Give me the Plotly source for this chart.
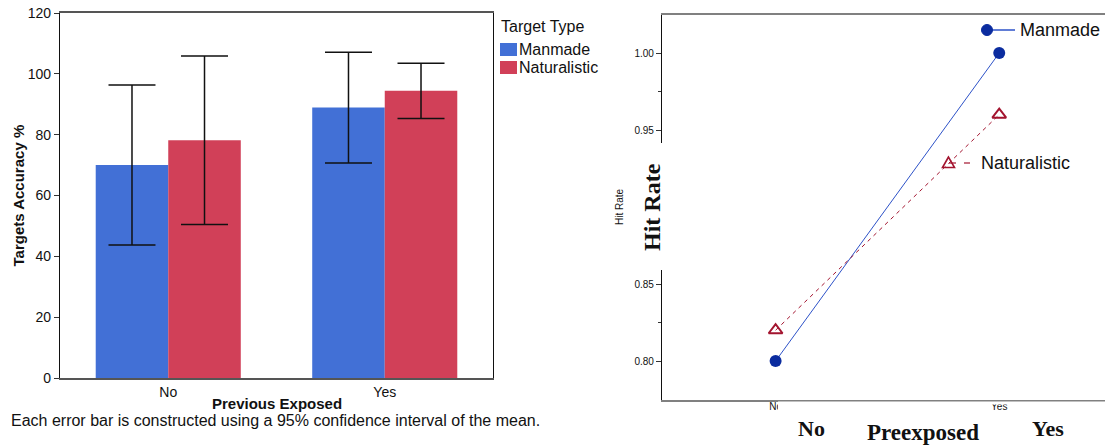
import plotly.graph_objects as go

W, H = 1105, 445

# ---------------- data ----------------
exposed = ["No", "Yes"]
manmade_acc = [70.0, 88.9]
manmade_ci = [26.3, 18.2]
natural_acc = [78.2, 94.4]
natural_ci = [27.7, 9.1]

hr_cats = ["No", "Yes"]
manmade_hr = [0.80, 1.00]
natural_hr = [0.82, 0.96]

y_ticks_left = [0, 20, 40, 60, 80, 100, 120]
y_ticks_right = [0.80, 0.85, 0.90, 0.95, 1.00]
y_minor_right = [0.825, 0.875, 0.925, 0.975]

BLUE = "#4270d6"
RED = "#d14058"
DBLUE = "#0b2c9f"
LBLUE = "#2d52c8"
DRED = "#a3142f"

SANS = "Liberation Sans, Arial, sans-serif"
SERIF = "Liberation Serif, Times New Roman, serif"


def px(x):
    return x / W


def py(y):
    return 1 - y / H


fig = go.Figure()

# ---------------- left: grouped bars ----------------
fig.add_trace(go.Bar(
    x=exposed, y=manmade_acc, name="Manmade", marker=dict(color=BLUE, line=dict(width=0)),
    error_y=dict(type="data", array=manmade_ci, color="#111111", thickness=1.5, width=23.5),
    xaxis="x", yaxis="y", showlegend=False,
))
fig.add_trace(go.Bar(
    x=exposed, y=natural_acc, name="Naturalistic", marker=dict(color=RED, line=dict(width=0)),
    error_y=dict(type="data", array=natural_ci, color="#111111", thickness=1.5, width=23.5),
    xaxis="x", yaxis="y", showlegend=False,
))

# ---------------- right: interaction lines ----------------
fig.add_trace(go.Scatter(
    x=hr_cats, y=manmade_hr, mode="lines+markers", name="Manmade",
    line=dict(color=LBLUE, width=1),
    marker=dict(color=DBLUE, size=12, symbol="circle"),
    xaxis="x2", yaxis="y2", showlegend=False, cliponaxis=False,
))
fig.add_trace(go.Scatter(
    x=hr_cats, y=natural_hr, mode="lines+markers", name="Naturalistic",
    line=dict(color=DRED, width=1, dash="4px,4px"),
    marker=dict(color=DRED, size=12, symbol="triangle-up-open", line=dict(width=2, color=DRED)),
    xaxis="x2", yaxis="y2", showlegend=False, cliponaxis=False,
))

shapes = []
annotations = []

# white patches that hide parts of the right panel
shapes.append(dict(type="rect", xref="paper", yref="paper", layer="above",
                   x0=px(600), x1=px(665), y0=py(270), y1=py(143),
                   fillcolor="white", line=dict(width=0)))
shapes.append(dict(type="rect", xref="paper", yref="paper", layer="above",
                   x0=px(778), x1=px(986), y0=py(445), y1=py(401.5),
                   fillcolor="white", line=dict(width=0)))
shapes.append(dict(type="rect", xref="paper", yref="paper", layer="above",
                   x0=px(986), x1=px(1105), y0=py(404.5), y1=py(401.5),
                   fillcolor="white", line=dict(width=0)))

# left legend
shapes.append(dict(type="rect", xref="paper", yref="paper", x0=px(500), x1=px(517),
                   y0=py(56), y1=py(43), fillcolor=BLUE, line=dict(width=0)))
shapes.append(dict(type="rect", xref="paper", yref="paper", x0=px(500), x1=px(517),
                   y0=py(74), y1=py(61), fillcolor=RED, line=dict(width=0)))
annotations += [
    dict(text="Target Type", x=px(499), y=py(27), xanchor="left", yanchor="middle",
         font=dict(size=16, color="#111111", family=SANS)),
    dict(text="Manmade", x=px(517), y=py(49.5), xanchor="left", yanchor="middle",
         font=dict(size=16, color="#111111", family=SANS)),
    dict(text="Naturalistic", x=px(517), y=py(67.5), xanchor="left", yanchor="middle",
         font=dict(size=16, color="#111111", family=SANS)),
]

# right legend keys
shapes.append(dict(type="line", xref="paper", yref="paper", x0=px(987), x1=px(1015),
                   y0=py(30), y1=py(30), line=dict(color=LBLUE, width=1.5)))
shapes.append(dict(type="circle", xref="paper", yref="paper", x0=px(981.5), x1=px(992.5),
                   y0=py(35.5), y1=py(24.5), fillcolor=DBLUE, line=dict(color=DBLUE, width=1)))
tri = "M {:.5f},{:.5f} L {:.5f},{:.5f} L {:.5f},{:.5f} Z".format(
    px(948.5), py(157), px(942.5), py(167.5), px(954.5), py(167.5))
shapes.append(dict(type="path", xref="paper", yref="paper", path=tri,
                   line=dict(color=DRED, width=1.6)))
shapes.append(dict(type="line", xref="paper", yref="paper", x0=px(949), x1=px(956),
                   y0=py(163), y1=py(163), line=dict(color=DRED, width=1.2)))
shapes.append(dict(type="line", xref="paper", yref="paper", x0=px(964), x1=px(970),
                   y0=py(163), y1=py(163), line=dict(color=DRED, width=1.2)))
annotations += [
    dict(text="Manmade", x=px(1018), y=py(30), xanchor="left", yanchor="middle",
         font=dict(size=18, color="#111111", family=SANS)),
    dict(text="Naturalistic", x=px(979), y=py(163), xanchor="left", yanchor="middle",
         font=dict(size=18, color="#111111", family=SANS)),
]

# left titles
annotations += [
    dict(text="<b>Targets Accuracy %</b>", x=px(18), y=py(195.5), textangle=-90,
         xanchor="center", yanchor="middle", font=dict(size=15, color="#111111", family=SANS)),
    dict(text="<b>Previous Exposed</b>", x=px(276.5), y=py(403), xanchor="center",
         yanchor="middle", font=dict(size=15, color="#111111", family=SANS)),
    dict(text="Each error bar is constructed using a 95% confidence interval of the mean.",
         x=px(9), y=py(420), xanchor="left", yanchor="middle",
         font=dict(size=16, color="#111111", family=SANS)),
]

# right titles
annotations += [
    dict(text="Hit Rate", x=px(619), y=py(207), textangle=-90, xanchor="center",
         yanchor="middle", font=dict(size=10, color="#111111", family=SANS)),
    dict(text="<b>Hit Rate</b>", x=px(652), y=py(207), textangle=-90, xanchor="center",
         yanchor="middle", font=dict(size=24, color="#111111", family=SERIF)),
    dict(text="<b>No</b>", x=px(811.5), y=py(428), xanchor="center", yanchor="middle",
         font=dict(size=22, color="#111111", family=SERIF)),
    dict(text="<b>Preexposed</b>", x=px(922.5), y=py(432), xanchor="center", yanchor="middle",
         font=dict(size=23, color="#111111", family=SERIF)),
    dict(text="<b>Yes</b>", x=px(1048), y=py(428), xanchor="center", yanchor="middle",
         font=dict(size=22, color="#111111", family=SERIF)),
]
for a in annotations:
    a.update(xref="paper", yref="paper", showarrow=False)

fig.update_layout(
    width=W, height=H, margin=dict(l=0, r=0, t=0, b=0, pad=0, autoexpand=False),
    autosize=False,
    paper_bgcolor="white", plot_bgcolor="white",
    barmode="group", bargap=0.33, bargroupgap=0,
    showlegend=False,
    shapes=shapes, annotations=annotations,
    xaxis=dict(domain=[px(60), px(493)], anchor="y", type="category",
               showline=True, linecolor="#555555", linewidth=1.5, mirror=True,
               ticks="", showgrid=False, zeroline=False,
               tickfont=dict(size=14, color="#111111", family=SANS)),
    yaxis=dict(domain=[py(378), py(13)], anchor="x", range=[0, 120],
               tickvals=y_ticks_left, showline=True, linecolor="#111111", linewidth=1.2,
               mirror=True, ticks="outside", ticklen=5, tickcolor="#333333", tickwidth=1,
               showgrid=False, zeroline=False,
               tickfont=dict(size=14, color="#111111", family=SANS)),
    xaxis2=dict(domain=[px(662), 1.0], anchor="y2", type="category",
                range=[-0.508, 1.473], showline=True, linecolor="#808080", linewidth=1.6,
                mirror=True, ticks="", showgrid=False, zeroline=False,
                ticklabelstandoff=-4,
                tickfont=dict(size=10, color="#111111", family=SANS)),
    yaxis2=dict(domain=[py(400), py(15)], anchor="x2", range=[0.7747, 1.0247],
                tickvals=y_ticks_right, tickformat=".2f",
                showline=True, linecolor="#111111", linewidth=1.2, mirror=False,
                ticks="outside", ticklen=5, tickcolor="#333333", tickwidth=1,
                minor=dict(tickvals=y_minor_right, ticks="outside", ticklen=3,
                           tickcolor="#333333"),
                showgrid=False, zeroline=False,
                tickfont=dict(size=10, color="#111111", family=SANS)),
)

fig.write_html("out.html", config={"responsive": False})
